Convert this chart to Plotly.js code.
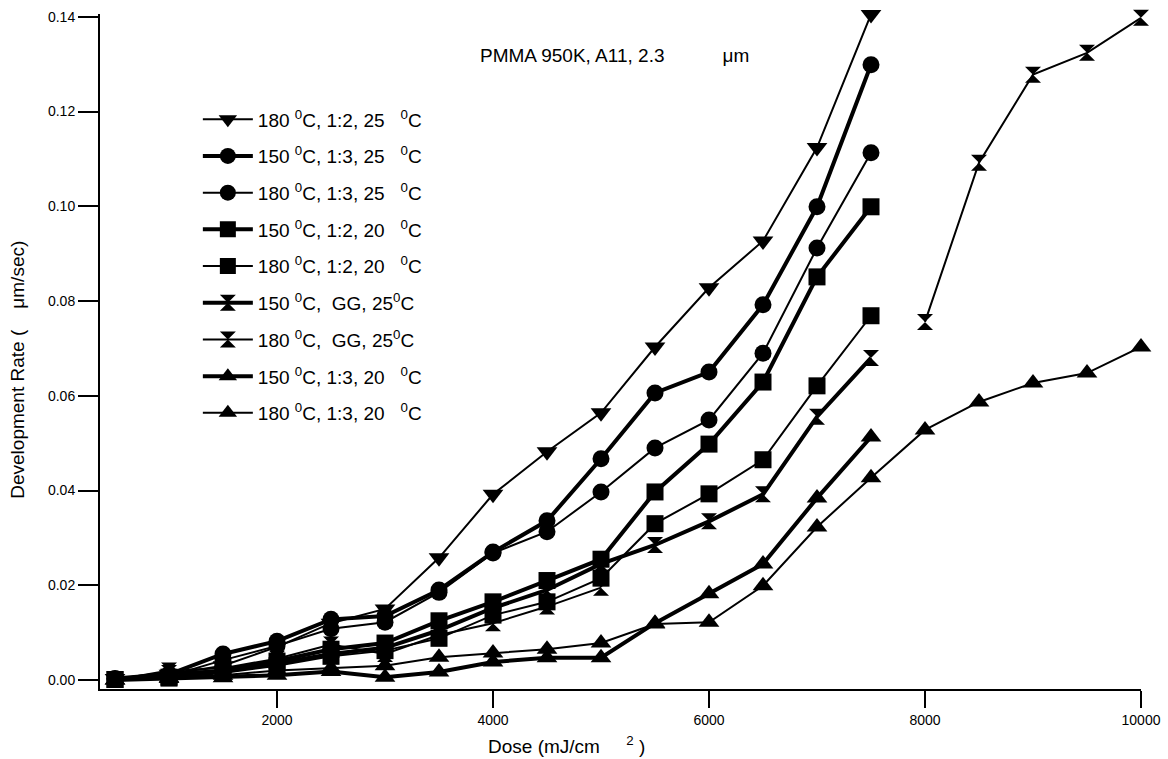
<!DOCTYPE html>
<html>
<head>
<meta charset="utf-8">
<script src="https://cdn.plot.ly/plotly-3.0.1.min.js"></script>
<style>
html,body{margin:0;padding:0;background:#fff;}
#chart{width:1168px;height:759px;}
</style>
</head>
<body>
<div id="chart"></div>
<script>
// Dose values (mJ/cm^2)
const dose = [500,1000,1500,2000,2500,3000,3500,4000,4500,5000,5500,6000,6500,7000,7500];
const doseLong = [500,1000,1500,2000,2500,3000,3500,4000,4500,5000,5500,6000,6500,7000,7500,8000,8500,9000,9500,10000];

// Development rate (um/sec)
const r180_12_25 = [0.0003,0.0012,0.0030,0.0070,0.0120,0.0150,0.0258,0.0392,0.0482,0.0564,0.0703,0.0828,0.0927,0.1124,0.1405];
const r150_13_25 = [0.0003,0.0012,0.0055,0.0082,0.0128,0.0135,0.0190,0.0270,0.0336,0.0467,0.0606,0.0650,0.0792,0.0999,0.1299];
const r180_13_25 = [0.0002,0.0008,0.0042,0.0072,0.0108,0.0122,0.0185,0.0268,0.0313,0.0397,0.0490,0.0549,0.0690,0.0912,0.1113];
const r150_12_20 = [0.0001,0.0006,0.0020,0.0040,0.0065,0.0078,0.0125,0.0165,0.0210,0.0255,0.0397,0.0498,0.0629,0.0851,0.0999];
const r180_12_20 = [0.0001,0.0004,0.0015,0.0030,0.0050,0.0062,0.0088,0.0137,0.0165,0.0215,0.0330,0.0393,0.0465,0.0621,0.0769];
const r150_GG_25 = [0.0000,0.0015,0.0018,0.0035,0.0055,0.0068,0.0105,0.0152,0.0190,0.0245,0.0285,0.0335,0.0392,0.0556,0.0680];
const r180_GG_25 = [0.0000,0.0020,0.0025,0.0045,0.0075,0.0055,0.0095,0.0120,0.0155,0.0195,null,null,null,null,null,0.0756,0.1092,0.1278,0.1324,0.1398];
const r150_13_20 = [0.0000,0.0003,0.0005,0.0010,0.0018,0.0006,0.0017,0.0038,0.0047,0.0047,0.0120,0.0182,0.0245,0.0384,0.0513];
const r180_13_20 = [0.0000,0.0005,0.0010,0.0020,0.0025,0.0030,0.0048,0.0057,0.0065,0.0078,0.0118,0.0122,0.0199,0.0323,0.0427,0.0528,0.0587,0.0627,0.0648,0.0703];

const names = [
  '180 <sup>0</sup>C, 1:2, 25   <sup>0</sup>C',
  '150 <sup>0</sup>C, 1:3, 25   <sup>0</sup>C',
  '180 <sup>0</sup>C, 1:3, 25   <sup>0</sup>C',
  '150 <sup>0</sup>C, 1:2, 20   <sup>0</sup>C',
  '180 <sup>0</sup>C, 1:2, 20   <sup>0</sup>C',
  '150 <sup>0</sup>C,  GG, 25<sup>0</sup>C',
  '180 <sup>0</sup>C,  GG, 25<sup>0</sup>C',
  '150 <sup>0</sup>C, 1:3, 20   <sup>0</sup>C',
  '180 <sup>0</sup>C, 1:3, 20   <sup>0</sup>C'
];

function tr(x, y, name, symbol, size, lw, g) {
  return {
    x: x, y: y, name: name, type: 'scatter', mode: 'lines+markers',
    legendgroup: g, cliponaxis: false,
    line: {color: '#000', width: lw},
    marker: {symbol: symbol, size: size, color: '#000', line: {width: 0}}
  };
}

const data = [
  tr(dose, r180_12_25, names[0], 'triangle-down', 18, 2, 'g1'),
  tr(dose, r150_13_25, names[1], 'circle', 17, 4, 'g2'),
  tr(dose, r180_13_25, names[2], 'circle', 17, 2, 'g3'),
  tr(dose, r150_12_20, names[3], 'square', 17, 4, 'g4'),
  tr(dose, r180_12_20, names[4], 'square', 17, 2, 'g5'),
  tr(dose, r150_GG_25, names[5], 'hourglass', 16, 4, 'g6'),
  tr(doseLong, r180_GG_25, names[6], 'hourglass', 16, 2, 'g7'),
  tr(dose, r150_13_20, names[7], 'triangle-up', 18, 4, 'g8'),
  tr(doseLong, r180_13_20, names[8], 'triangle-up', 18, 2, 'g9')
];

const layout = {
  width: 1168, height: 759,
  margin: {l: 100, r: 27, t: 14, b: 70},
  paper_bgcolor: '#fff', plot_bgcolor: '#fff',
  font: {family: 'Liberation Sans, Arial, sans-serif', color: '#000'},
  showlegend: true,
  legend: {
    x: 0.094, y: 0.872, xanchor: 'left', yanchor: 'top',
    font: {size: 19, family: 'Liberation Sans, Arial, sans-serif', color: '#000'},
    bgcolor: 'rgba(0,0,0,0)', traceorder: 'grouped', tracegroupgap: 9,
    itemwidth: 50
  },
  xaxis: {
    range: [361, 10000], tick0: 0, dtick: 2000, tickformat: 'd',
    showgrid: false, zeroline: false,
    showline: true, linecolor: '#000', linewidth: 2,
    ticks: 'outside', ticklen: 17, tickwidth: 2, tickcolor: '#000',
    tickfont: {size: 14}
  },
  yaxis: {
    range: [-0.0019, 0.1406], tick0: 0, dtick: 0.02, tickformat: '.2f',
    showgrid: false, zeroline: false,
    showline: true, linecolor: '#000', linewidth: 2,
    ticks: 'outside', ticklen: 20, tickwidth: 2, tickcolor: '#000',
    tickfont: {size: 14}
  },
  annotations: [
    {xref: 'paper', yref: 'paper', x: 0.363, y: 0.939, xanchor: 'left', yanchor: 'middle',
     showarrow: false, text: 'PMMA 950K, A11, 2.3           \u03bcm', font: {size: 19}},
    {xref: 'paper', yref: 'paper', x: 0.4477, y: -0.083, xanchor: 'center', yanchor: 'middle',
     showarrow: false, text: 'Dose (mJ/cm     <sup>2</sup> )', font: {size: 19}},
    {xref: 'paper', yref: 'paper', x: -0.079, y: 0.4726, xanchor: 'center', yanchor: 'middle',
     textangle: -90, showarrow: false, text: 'Development Rate (    \u03bcm/sec)', font: {size: 19}}
  ]
};

Plotly.newPlot('chart', data, layout, {displayModeBar: false, staticPlot: true});
</script>
</body>
</html>
